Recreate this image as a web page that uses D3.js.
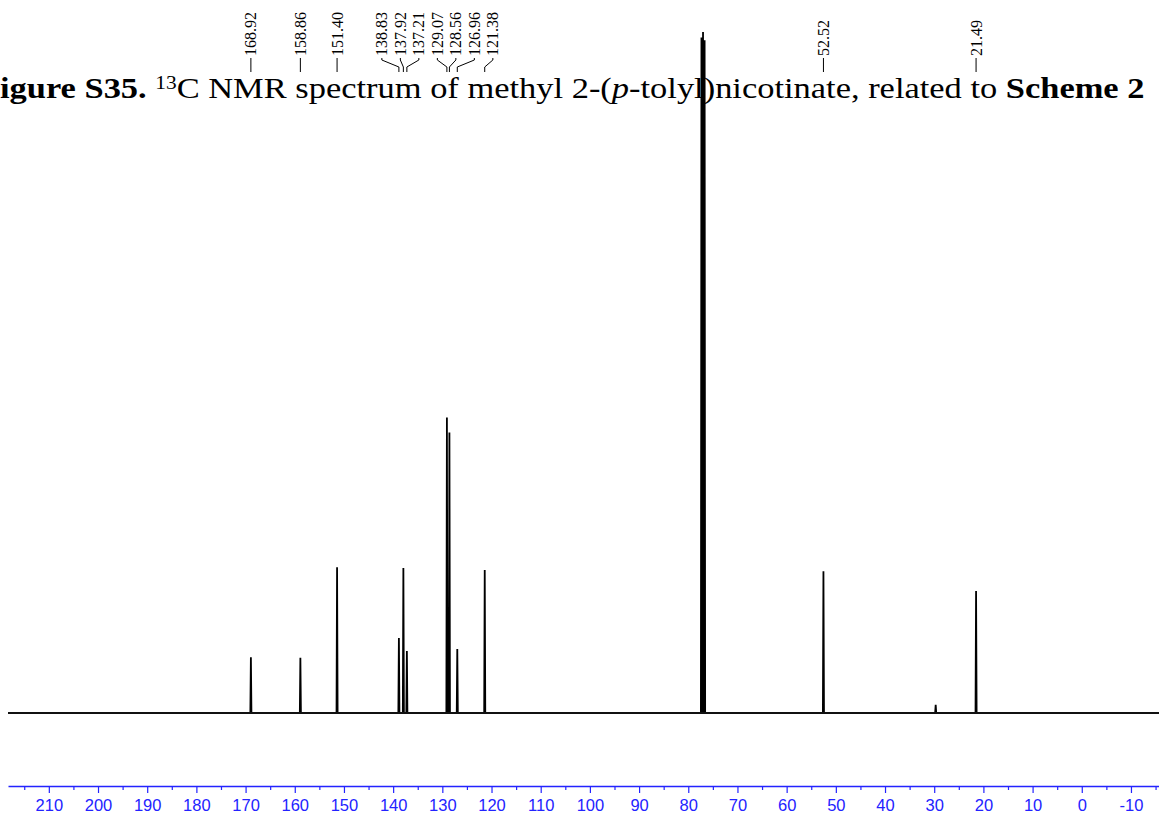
<!DOCTYPE html>
<html>
<head>
<meta charset="utf-8">
<script src="https://cdn.jsdelivr.net/npm/d3@7"></script>
<style>
  html, body { margin: 0; padding: 0; background: #fff; }
  svg { display: block; }
</style>
</head>
<body>
<svg id="chart" width="1159" height="818"></svg>
<script>
// ---- data ----
const ppmDomain = [218.3, -15.7];
const peakShifts  = [168.92, 158.86, 151.40, 138.83, 137.92, 137.21, 129.07, 128.56, 126.96, 121.38, 77.32, 77.00, 76.68, 52.52, 29.70, 21.49];
const peakHeights = [8.2,    8.1,    21.4,   11.0,   21.3,   9.1,    43.4,   41.2,   9.4,    21.0,   99.2,  100.0, 98.8,  20.8,  1.2,   17.9];
const labelShifts = [168.92, 158.86, 151.40, 138.83, 137.92, 137.21, 129.07, 128.56, 126.96, 121.38, 52.52, 21.49];
const labelTexts  = ["168.92", "158.86", "151.40", "138.83", "137.92", "137.21", "129.07", "128.56", "126.96", "121.38", "52.52", "21.49"];
const tickValues  = [210, 200, 190, 180, 170, 160, 150, 140, 130, 120, 110, 100, 90, 80, 70, 60, 50, 40, 30, 20, 10, 0, -10];
const tickLabels  = ["210", "200", "190", "180", "170", "160", "150", "140", "130", "120", "110", "100", "90", "80", "70", "60", "50", "40", "30", "20", "10", "0", "-10"];
const minorTickValues = [215, 205, 195, 185, 175, 165, 155, 145, 135, 125, 115, 105, 95, 85, 75, 65, 55, 45, 35, 25, 15, 5, -5, -15];

// ---- setup ----
const W = 1159, H = 818;
const svg = d3.select("#chart");
const x = d3.scaleLinear().domain(ppmDomain).range([8, W]);
const y = d3.scaleLinear().domain([0, 100]).range([713, 32]);
const axisColor = "#2323ff";

// ---- spectrum ----
const halfW = 0.11;
const peaks = peakShifts.map((p, i) => ({ p, h: peakHeights[i] })).sort((a, b) => b.p - a.p);
const pts = [[ppmDomain[0], 0]];
peaks.forEach(pk => {
  pts.push([pk.p + halfW, 0]);
  pts.push([pk.p, pk.h]);
  pts.push([pk.p - halfW, 0]);
});
pts.push([ppmDomain[1], 0]);
const line = d3.line().x(d => x(d[0])).y(d => y(d[1]));

svg.append("path")
  .attr("d", line(pts))
  .attr("fill", "none")
  .attr("stroke", "#000")
  .attr("stroke-width", 1.8)
  .attr("stroke-linejoin", "miter");
// baseline noise band
svg.append("line")
  .attr("x1", x(ppmDomain[0])).attr("x2", x(ppmDomain[1]))
  .attr("y1", y(0)).attr("y2", y(0))
  .attr("stroke", "#111").attr("stroke-width", 2.2);

// ---- title ----
const titleSize = 29;
const title = svg.append("text")
  .attr("font-family", "'Liberation Serif', 'Times New Roman', serif")
  .attr("font-size", titleSize)
  .attr("fill", "#000");
const tF = title.append("tspan").attr("font-weight", "bold").text("F");
title.append("tspan").attr("font-weight", "bold").text("igure S35. ");
title.append("tspan").attr("font-size", 18).attr("dy", -9).text("13");
title.append("tspan").attr("dy", 9).text("C NMR spectrum of methyl 2-(");
title.append("tspan").attr("font-style", "italic").text("p");
title.append("tspan").text("-tolyl)nicotinate, related to ");
title.append("tspan").attr("font-weight", "bold").text("Scheme 2");
// fit horizontally: "igure" starts at x≈0, text ends at x≈1145
(function fit() {
  const total = title.node().getComputedTextLength();
  const fw = tF.node().getComputedTextLength();
  const sx = 1145 / (total - fw);
  title.attr("transform", `translate(0,98) scale(${sx},1) translate(${-fw},0)`);
})();

// ---- peak labels with leader lines ----
const minSep = 18.5;
let labels = labelShifts.map((p, i) => ({ p, t: labelTexts[i], px: x(p) })).sort((a, b) => a.px - b.px);
let groups = labels.map(l => ({ items: [l], center: l.px }));
let merged = true;
while (merged) {
  merged = false;
  for (let i = 0; i < groups.length - 1; i++) {
    const a = groups[i], b = groups[i + 1];
    const aEnd = a.center + (a.items.length - 1) * minSep / 2;
    const bStart = b.center - (b.items.length - 1) * minSep / 2;
    if (bStart - aEnd < minSep) {
      const items = a.items.concat(b.items);
      groups.splice(i, 2, { items, center: d3.mean(items, d => d.px) + 2 });
      merged = true;
      break;
    }
  }
}
groups.forEach(g => {
  g.items.forEach((it, k) => {
    it.lx = g.items.length === 1 ? it.px : g.center + (k - (g.items.length - 1) / 2) * minSep;
  });
});

const labelG = svg.append("g");
labels.forEach(l => {
  labelG.append("text")
    .attr("transform", `translate(${l.lx + 5.5},56) rotate(-90)`)
    .attr("font-family", "'Liberation Serif', 'Times New Roman', serif")
    .attr("font-size", 16)
    .attr("fill", "#000")
    .text(l.t);
  const path = d3.path();
  path.moveTo(l.lx, 58);
  path.lineTo(l.lx, 60);
  path.lineTo(l.px, 67);
  path.lineTo(l.px, 72);
  labelG.append("path")
    .attr("d", path.toString())
    .attr("fill", "none")
    .attr("stroke", "#000")
    .attr("stroke-width", 1);
});

// ---- axis ----
const axisY = 786;
const axis = d3.axisBottom(x)
  .tickValues(tickValues)
  .tickFormat((d, i) => tickLabels[i])
  .tickSize(7)
  .tickPadding(6)
  .tickSizeOuter(0);
const gAxis = svg.append("g").attr("transform", `translate(0,${axisY})`).call(axis);
gAxis.select(".domain").attr("stroke", axisColor).attr("stroke-width", 1.3);
gAxis.selectAll(".tick line").attr("stroke", axisColor).attr("stroke-width", 1.2);
gAxis.selectAll(".tick text")
  .attr("fill", axisColor)
  .attr("font-family", "'Liberation Sans', Arial, sans-serif")
  .attr("font-size", 16.5);
const minorAxis = d3.axisBottom(x)
  .tickValues(minorTickValues.filter(v => v <= ppmDomain[0] && v >= ppmDomain[1]))
  .tickFormat("")
  .tickSize(4)
  .tickSizeOuter(0);
const gMinor = svg.append("g").attr("transform", `translate(0,${axisY})`).call(minorAxis);
gMinor.select(".domain").remove();
gMinor.selectAll(".tick line").attr("stroke", axisColor).attr("stroke-width", 1.2);
</script>
</body>
</html>
